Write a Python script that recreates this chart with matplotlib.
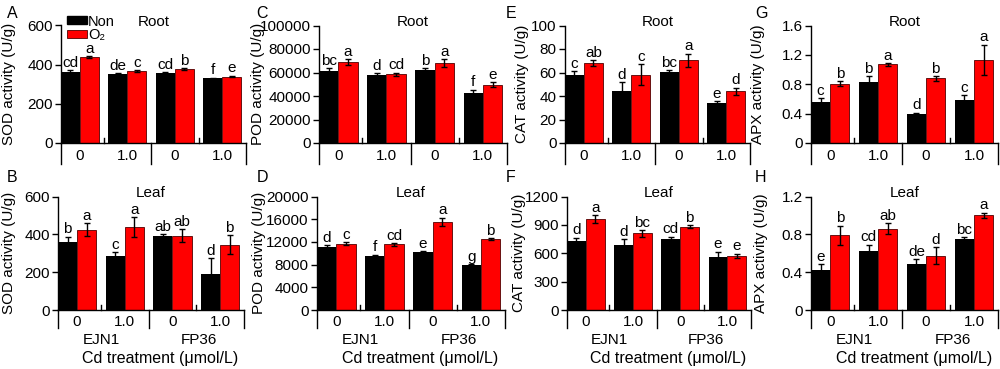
import numpy as np
import matplotlib
matplotlib.use('Agg')
import matplotlib.pyplot as plt
from matplotlib.patches import Patch
from matplotlib.transforms import blended_transform_factory

plt.rcParams['font.family'] = ['Liberation Sans', 'DejaVu Sans']
plt.rcParams['font.size'] = 11
plt.rcParams['axes.linewidth'] = 1.0

# categories ###############################################################
cd_levels = ['0', '1.0', '0', '1.0']
cultivars = ['EJN1', 'FP36']
series = ['Non', 'O\u2082']

# A - SOD root
sod_root_non = [361, 353, 358, 331]
sod_root_non_err = [10, 3, 4, 2]
sod_root_o2 = [438, 366, 378, 339]
sod_root_o2_err = [6, 5, 5, 4]
sod_root_let_non = ['cd', 'de', 'cd', 'f']
sod_root_let_o2 = ['a', 'c', 'b', 'e']

# B - SOD leaf
sod_leaf_non = [360, 287, 390, 190]
sod_leaf_non_err = [28, 20, 12, 85]
sod_leaf_o2 = [425, 440, 392, 345]
sod_leaf_o2_err = [33, 52, 35, 50]
sod_leaf_let_non = ['b', 'c', 'ab', 'd']
sod_leaf_let_o2 = ['a', 'a', 'ab', 'b']

# C - POD root
pod_root_non = [61000, 57500, 62500, 42500]
pod_root_non_err = [2500, 2000, 1000, 3000]
pod_root_o2 = [69000, 58500, 68000, 49500]
pod_root_o2_err = [2500, 1500, 3500, 2000]
pod_root_let_non = ['bc', 'd', 'b', 'f']
pod_root_let_o2 = ['a', 'cd', 'a', 'e']

# D - POD leaf
pod_leaf_non = [11150, 9550, 10150, 7950]
pod_leaf_non_err = [300, 200, 200, 150]
pod_leaf_o2 = [11700, 11550, 15550, 12450]
pod_leaf_o2_err = [200, 250, 700, 150]
pod_leaf_let_non = ['d', 'f', 'e', 'g']
pod_leaf_let_o2 = ['c', 'cd', 'a', 'b']

# E - CAT root
cat_root_non = [58, 44.5, 60.5, 34]
cat_root_non_err = [3, 7, 1.5, 1.5]
cat_root_o2 = [68, 58, 70.5, 44]
cat_root_o2_err = [2.5, 9, 5.5, 3]
cat_root_let_non = ['c', 'd', 'bc', 'e']
cat_root_let_o2 = ['ab', 'c', 'a', 'd']

# F - CAT leaf
cat_leaf_non = [730, 690, 755, 560]
cat_leaf_non_err = [35, 60, 20, 55]
cat_leaf_o2 = [960, 810, 880, 575]
cat_leaf_o2_err = [40, 35, 15, 20]
cat_leaf_let_non = ['d', 'd', 'cd', 'e']
cat_leaf_let_o2 = ['a', 'bc', 'b', 'e']

# G - APX root
apx_root_non = [0.56, 0.83, 0.39, 0.59]
apx_root_non_err = [0.05, 0.08, 0.02, 0.06]
apx_root_o2 = [0.81, 1.07, 0.88, 1.13]
apx_root_o2_err = [0.03, 0.02, 0.03, 0.21]
apx_root_let_non = ['c', 'b', 'd', 'c']
apx_root_let_o2 = ['b', 'a', 'b', 'a']

# H - APX leaf
apx_leaf_non = [0.425, 0.62, 0.49, 0.75]
apx_leaf_non_err = [0.06, 0.07, 0.05, 0.02]
apx_leaf_o2 = [0.79, 0.86, 0.575, 1.0]
apx_leaf_o2_err = [0.1, 0.06, 0.09, 0.03]
apx_leaf_let_non = ['e', 'cd', 'de', 'bc']
apx_leaf_let_o2 = ['b', 'ab', 'd', 'a']

RED = '#ff0000'
W, H = 1000, 369

fig = plt.figure(figsize=(10, 3.69), dpi=100)


def px_axes(left, top, width, height):
    return fig.add_axes([left / W, 1 - (top + height) / H, width / W, height / H])


def draw_panel(ax, non, non_err, o2, o2_err, let_non, let_o2, yticks, ylabels,
               ylabel, title, leaf, label_x):
    x = np.arange(len(cd_levels))
    ekw = dict(ecolor='black', elinewidth=1, capsize=2, capthick=1)
    ax.bar(x - 0.2, non, 0.4, yerr=non_err, color='black', error_kw=ekw)
    ax.bar(x + 0.2, o2, 0.4, yerr=o2_err, color=RED, edgecolor='#500000',
           linewidth=0.6, error_kw=ekw)
    for i in range(len(x)):
        ax.annotate(let_non[i], (x[i] - 0.2, non[i] + non_err[i]), xytext=(0, 0.3),
                    textcoords='offset points', ha='center', va='bottom')
        ax.annotate(let_o2[i], (x[i] + 0.2, o2[i] + o2_err[i]), xytext=(0, 0.3),
                    textcoords='offset points', ha='center', va='bottom')

    ax.set_xlim(-0.4, 3.5)
    ax.set_ylim(0, yticks[-1])
    ax.set_yticks(yticks)
    ax.set_yticklabels(ylabels)
    ax.set_xticks([])
    ax.spines['top'].set_visible(False)
    ax.spines['right'].set_visible(False)
    ax.tick_params(axis='y', direction='out', length=4, width=1, pad=2)
    ax.set_ylabel(ylabel)
    ax.yaxis.set_label_coords(label_x, 0.5)
    ax.text(0.5, 1.03, title, transform=ax.transAxes, ha='center', va='center')

    # category brackets under the x axis
    h_px = ax.get_position().height * H
    tr = blended_transform_factory(ax.transData, ax.transAxes)
    drop = (18 if leaf else 21) / h_px
    for xp in [-0.4, 1.5, 3.5]:
        ax.plot([xp, xp], [0, -drop], transform=tr, clip_on=False, color='black', lw=1)
    for xp in [0.5, 2.5]:
        ax.plot([xp, xp], [0, 5 / h_px], transform=tr, clip_on=False, color='black', lw=1)
    for i, lab in enumerate(cd_levels):
        ax.text(i, -12.5 / h_px, lab, transform=tr, ha='center', va='center')
    if leaf:
        ax.text(0.5, -30 / h_px, cultivars[0], transform=tr, ha='center', va='center')
        ax.text(2.55, -30 / h_px, cultivars[1], transform=tr, ha='center', va='center')
        ax.text(0.55, -48 / h_px, 'Cd treatment (\u03bcmol/L)', transform=ax.transAxes,
                ha='center', va='center', fontsize=11.5)


top_y, top_h = 25.5, 117.5
bot_y, bot_h = 196.5, 113.5

axA = px_axes(61, top_y, 185, top_h)
axC = px_axes(319, top_y, 188, top_h)
axE = px_axes(565, top_y, 185, top_h)
axG = px_axes(811, top_y, 187, top_h)
axB = px_axes(58, bot_y, 186, bot_h)
axD = px_axes(317, bot_y, 188, bot_h)
axF = px_axes(567, bot_y, 184, bot_h)
axH = px_axes(811, bot_y, 187, bot_h)

draw_panel(axA, sod_root_non, sod_root_non_err, sod_root_o2, sod_root_o2_err,
           sod_root_let_non, sod_root_let_o2, [0, 200, 400, 600], ['0', '200', '400', '600'],
           'SOD activity (U/g)', 'Root', False, -0.245)
draw_panel(axB, sod_leaf_non, sod_leaf_non_err, sod_leaf_o2, sod_leaf_o2_err,
           sod_leaf_let_non, sod_leaf_let_o2, [0, 200, 400, 600], ['0', '200', '400', '600'],
           'SOD activity (U/g)', 'Leaf', True, -0.225)
draw_panel(axC, pod_root_non, pod_root_non_err, pod_root_o2, pod_root_o2_err,
           pod_root_let_non, pod_root_let_o2, [0, 20000, 40000, 60000, 80000, 100000],
           ['0', '20000', '40000', '60000', '80000', '100000'],
           'POD activity (U/g)', 'Root', False, -0.285)
draw_panel(axD, pod_leaf_non, pod_leaf_non_err, pod_leaf_o2, pod_leaf_o2_err,
           pod_leaf_let_non, pod_leaf_let_o2, [0, 4000, 8000, 12000, 16000, 20000],
           ['0', '4000', '8000', '12000', '16000', '20000'],
           'POD activity (U/g)', 'Leaf', True, -0.27)
draw_panel(axE, cat_root_non, cat_root_non_err, cat_root_o2, cat_root_o2_err,
           cat_root_let_non, cat_root_let_o2, [0, 20, 40, 60, 80, 100],
           ['0', '20', '40', '60', '80', '100'],
           'CAT activity (U/g)', 'Root', False, -0.195)
draw_panel(axF, cat_leaf_non, cat_leaf_non_err, cat_leaf_o2, cat_leaf_o2_err,
           cat_leaf_let_non, cat_leaf_let_o2, [0, 300, 600, 900, 1200],
           ['0', '300', '600', '900', '1200'],
           'CAT activity (U/g)', 'Leaf', True, -0.225)
draw_panel(axG, apx_root_non, apx_root_non_err, apx_root_o2, apx_root_o2_err,
           apx_root_let_non, apx_root_let_o2, [0, 0.4, 0.8, 1.2, 1.6],
           ['0', '0.4', '0.8', '1.2', '1.6'],
           'APX activity (U/g)', 'Root', False, -0.245)
draw_panel(axH, apx_leaf_non, apx_leaf_non_err, apx_leaf_o2, apx_leaf_o2_err,
           apx_leaf_let_non, apx_leaf_let_o2, [0, 0.4, 0.8, 1.2],
           ['0', '0.4', '0.8', '1.2'],
           'APX activity (U/g)', 'Leaf', True, -0.23)

handles = [Patch(facecolor='black', edgecolor='black'),
           Patch(facecolor=RED, edgecolor='#500000', linewidth=0.6)]
axA.legend(handles, series, loc='upper left', bbox_to_anchor=(6 / 185, 1 + 11 / top_h),
           frameon=False, handlelength=1.35, handleheight=0.45, handletextpad=0.1,
           labelspacing=0.0, borderpad=0, borderaxespad=0, fontsize=10.5)

for lab, xp, yp in [('A', 12, 13), ('C', 262, 13), ('E', 511, 13), ('G', 761, 13),
                    ('B', 12, 177), ('D', 262, 177), ('F', 511, 177), ('H', 761, 177)]:
    fig.text(xp / W, 1 - yp / H, lab, fontsize=11.5, ha='center', va='center')

fig.savefig('out.png', dpi=100)
